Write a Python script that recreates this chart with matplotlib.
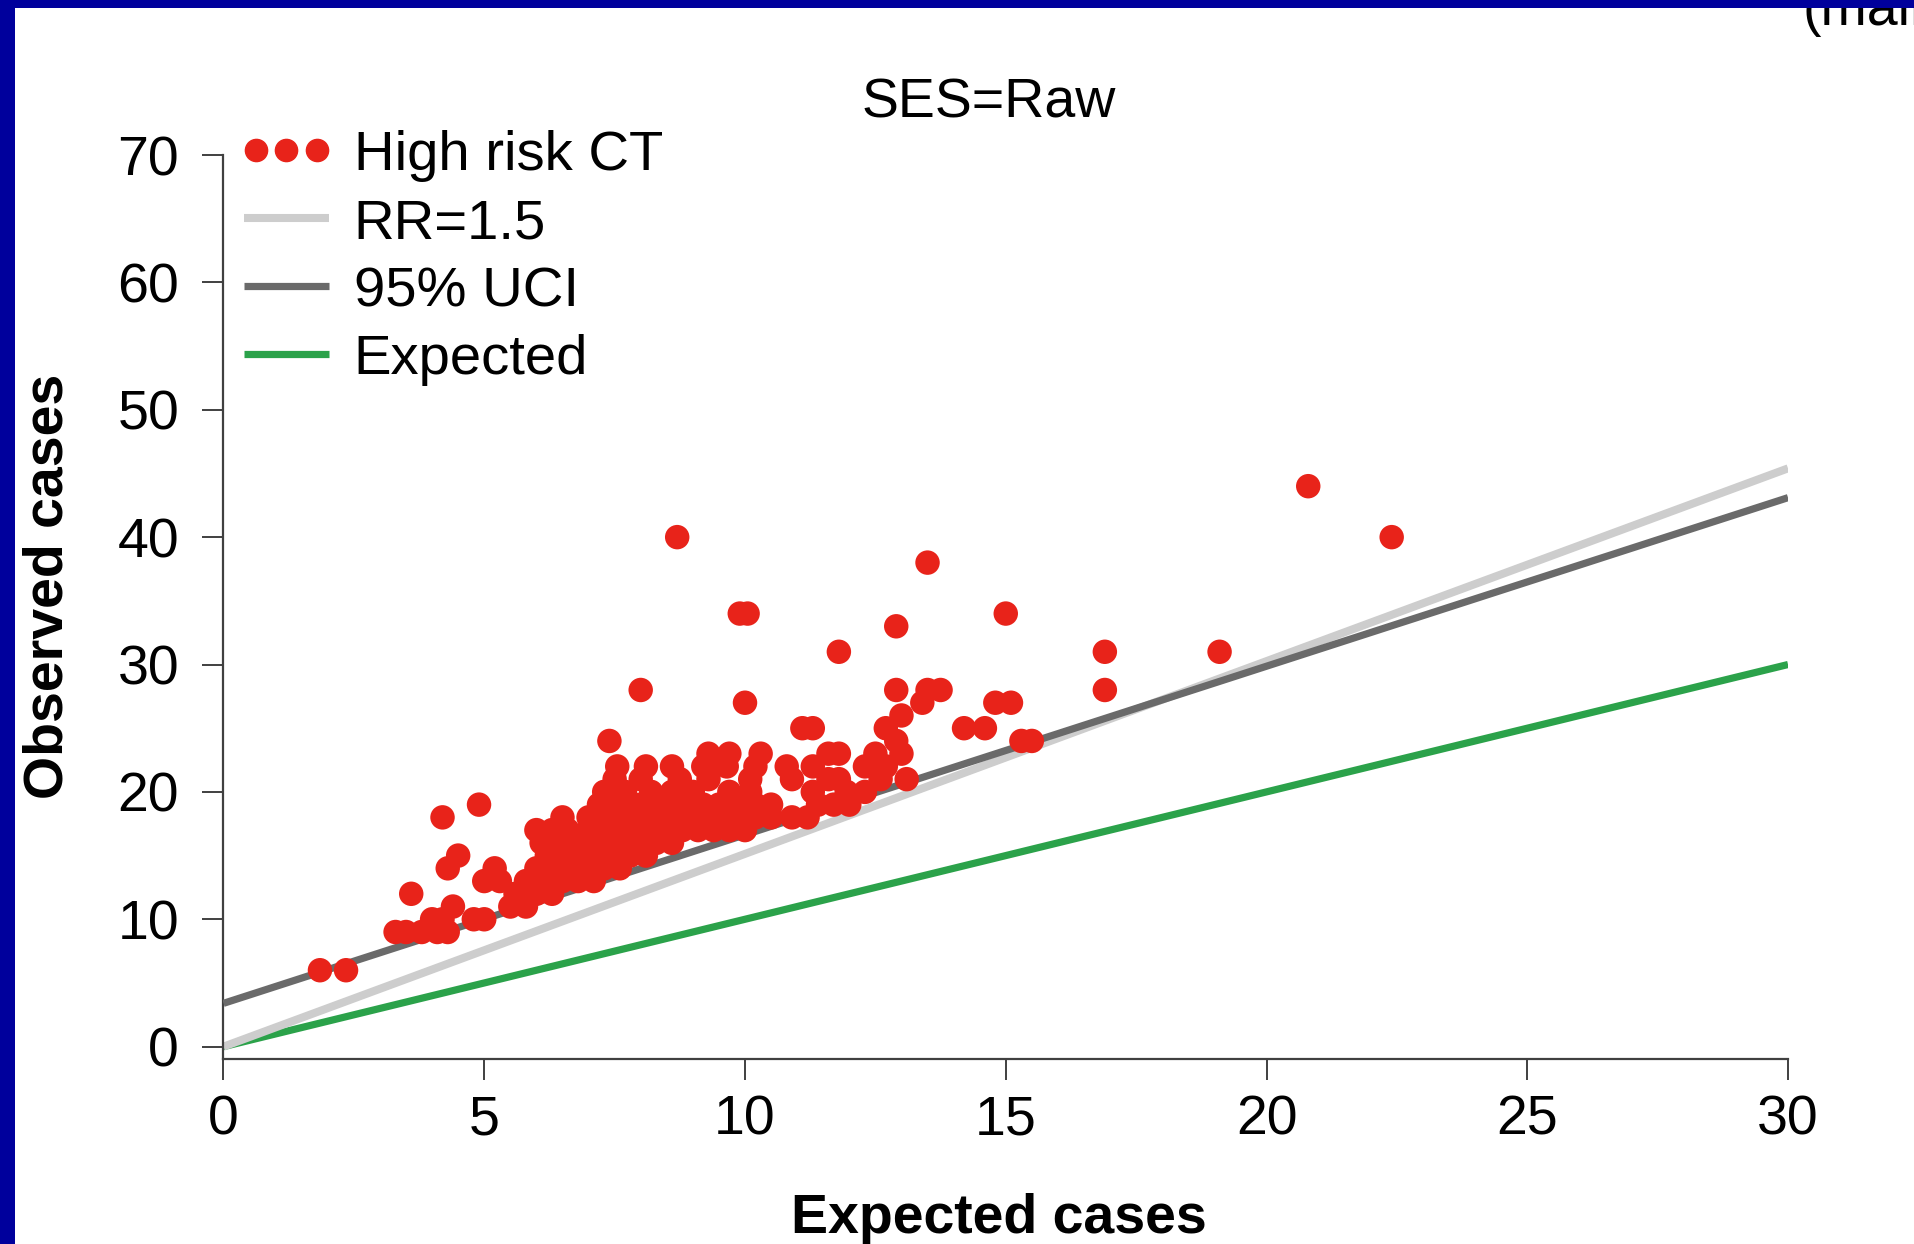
import matplotlib
matplotlib.use("Agg")
import matplotlib.pyplot as plt
from matplotlib.patches import Rectangle
from matplotlib.lines import Line2D
from matplotlib.legend_handler import HandlerLine2D

plt.rcParams['font.family'] = ['Liberation Sans', 'DejaVu Sans']

# High risk census tracts: expected vs observed cases
obs_x = [1.85, 2.35,
         3.3, 3.5, 3.8, 4.1, 4.3,
         4.0, 4.2, 4.8, 5.0,
         4.4, 5.5, 5.8,
         3.6, 5.6, 6.0, 6.3,
         5.0, 5.3, 5.8, 6.2, 6.5, 6.8, 7.1,
         4.3, 5.2, 6.0, 6.4, 6.7, 7.0, 7.3, 7.6,
         4.5, 6.2, 6.5, 6.9, 7.2, 7.5, 7.8, 8.1,
         6.1, 6.4, 6.8, 7.1, 7.4, 7.7, 8.0, 8.3, 8.6,
         6.0, 6.3, 6.6, 7.0, 7.3, 7.6, 7.9, 8.2, 8.5, 8.8, 9.1, 9.4, 9.7, 10.0,
         4.2, 6.5, 7.0, 7.4, 7.8, 8.1, 8.4, 8.7, 9.0, 9.3, 9.6, 9.9, 10.2, 10.5, 10.9, 11.2,
         4.9, 7.2, 7.6, 8.0, 8.4, 8.8, 9.2, 9.5, 9.8, 10.2, 10.5, 11.4, 11.7, 12.0,
         7.3, 7.7, 8.2, 8.6, 9.0, 9.7, 10.1, 11.3, 11.95, 12.3,
         7.5, 8.0, 8.75, 9.3, 10.1, 10.9, 11.6, 11.8, 12.6, 13.1,
         7.55, 8.1, 8.6, 9.2, 9.65, 10.2, 10.8, 11.3, 12.3, 12.7,
         9.3, 9.7, 10.3, 11.6, 11.8, 12.5, 13.0,
         7.4, 12.9, 15.3, 15.5,
         11.1, 11.3, 12.7, 14.2, 14.6,
         13.0,
         10.0, 13.4, 14.8, 15.1,
         8.0, 12.9, 13.5, 13.75, 16.9,
         11.8, 16.9, 19.1,
         12.9,
         9.9, 10.05, 15.0,
         13.5,
         8.7, 22.4,
         20.8]
obs_y = [6, 6,
         9, 9, 9, 9, 9,
         10, 10, 10, 10,
         11, 11, 11,
         12, 12, 12, 12,
         13, 13, 13, 13, 13, 13, 13,
         14, 14, 14, 14, 14, 14, 14, 14,
         15, 15, 15, 15, 15, 15, 15, 15,
         16, 16, 16, 16, 16, 16, 16, 16, 16,
         17, 17, 17, 17, 17, 17, 17, 17, 17, 17, 17, 17, 17, 17,
         18, 18, 18, 18, 18, 18, 18, 18, 18, 18, 18, 18, 18, 18, 18, 18,
         19, 19, 19, 19, 19, 19, 19, 19, 19, 19, 19, 19, 19, 19,
         20, 20, 20, 20, 20, 20, 20, 20, 20, 20,
         21, 21, 21, 21, 21, 21, 21, 21, 21, 21,
         22, 22, 22, 22, 22, 22, 22, 22, 22, 22,
         23, 23, 23, 23, 23, 23, 23,
         24, 24, 24, 24,
         25, 25, 25, 25, 25,
         26,
         27, 27, 27, 27,
         28, 28, 28, 28, 28,
         31, 31, 31,
         33,
         34, 34, 34,
         38,
         40, 40,
         44]

# reference lines
line_x = [0, 30]
rr_y = [0, 45.4]
uci_y = [3.4, 43.1]
exp_y = [0, 30]

x_ticks = [0, 5, 10, 15, 20, 25, 30]
y_ticks = [0, 10, 20, 30, 40, 50, 60, 70]

RED = '#e8231a'
LIGHT = '#cdcdcd'
DARK = '#6a6a6a'
GREEN = '#2ba24a'
BLUE = '#00009c'

fig = plt.figure(figsize=(19.15, 12.44), dpi=100)
fig.patch.set_facecolor(BLUE)
# white panel inside the blue frame
fig.patches.append(Rectangle((15/1915, 0), 1 - 15/1915, 1 - 8/1244,
                             transform=fig.transFigure, facecolor='white',
                             edgecolor='none', zorder=-10))

ax = fig.add_axes([0.1167, 0.1484, 0.817, 0.727])
ax.set_facecolor('none')

ax.plot(line_x, exp_y, color=GREEN, lw=5.2, solid_capstyle='butt', zorder=2)
ax.plot(line_x, rr_y, color=LIGHT, lw=5.8, solid_capstyle='butt', zorder=2)
ax.plot(line_x, uci_y, color=DARK, lw=5.2, solid_capstyle='butt', zorder=3)
ax.scatter(obs_x, obs_y, s=310, color=RED, edgecolors='none', zorder=4)

ax.set_xlim(0, 30)
ax.set_ylim(-1, 70)
ax.set_xticks(x_ticks)
ax.set_yticks(y_ticks)
ax.spines['top'].set_visible(False)
ax.spines['right'].set_visible(False)
for s in ['left', 'bottom']:
    ax.spines[s].set_color('#404040')
    ax.spines[s].set_linewidth(1.6)
ax.tick_params(axis='both', labelsize=40, length=15, width=1.4, color='#404040')
ax.tick_params(axis='x', pad=10)
ax.tick_params(axis='y', pad=17)

h_pts = Line2D([], [], ls='none', marker='o', ms=16, color=RED)
h_rr = Line2D([], [], color=LIGHT, lw=5.8, solid_capstyle='butt')
h_uci = Line2D([], [], color=DARK, lw=5.2, solid_capstyle='butt')
h_exp = Line2D([], [], color=GREEN, lw=5.2, solid_capstyle='butt')
labels = ['High risk CT', 'RR=1.5', '95% UCI', 'Expected']
ax.legend([h_pts, h_rr, h_uci, h_exp], labels, loc='upper left',
          bbox_to_anchor=(244/1915, 1 - 130/1244),
          bbox_transform=fig.transFigure, frameon=False, fontsize=40.5,
          handlelength=1.51, handletextpad=0.44, labelspacing=0.285,
          borderpad=0, borderaxespad=0,
          handler_map={h_pts: HandlerLine2D(numpoints=3, marker_pad=0.21),
                       h_rr: HandlerLine2D(numpoints=1),
                       h_uci: HandlerLine2D(numpoints=1),
                       h_exp: HandlerLine2D(numpoints=1)})

fig.text(989/1915, 1 - 104/1244, 'SES=Raw', fontsize=40, ha='center', va='center')
fig.text(999/1915, 1 - 1219/1244, 'Expected cases', fontsize=40, fontweight='bold',
         ha='center', va='center')
fig.text(49/1915, 1 - 586/1244, 'Observed cases', fontsize=40, fontweight='bold',
         ha='center', va='center', rotation=90)

# partly hidden text at the top right corner
fig.text(1803/1915, 1 - 25/1244, '(main', fontsize=40, ha='left', va='baseline')
fig.patches.append(Rectangle((0, 1 - 8/1244), 1, 8/1244, transform=fig.transFigure,
                             facecolor=BLUE, edgecolor='none', zorder=10))

fig.savefig('out.png', dpi=100, facecolor=fig.get_facecolor())
